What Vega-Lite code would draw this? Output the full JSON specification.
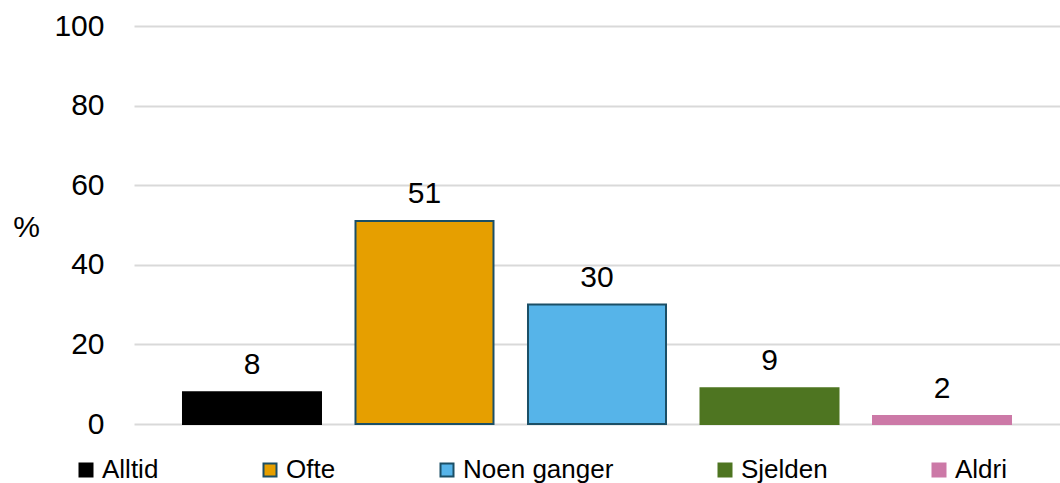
{
  "$schema": "https://vega.github.io/schema/vega-lite/v6.json",
  "width": 926,
  "height": 398,
  "autosize": "none",
  "padding": {"left": 134, "top": 26, "right": 0, "bottom": 59},
  "background": "white",
  "config": {
    "view": {"stroke": null},
    "font": "Liberation Sans"
  },
  "data": {
    "values": [
      {"kategori": "Alltid", "prosent": 8},
      {"kategori": "Ofte", "prosent": 51},
      {"kategori": "Noen ganger", "prosent": 30},
      {"kategori": "Sjelden", "prosent": 9},
      {"kategori": "Aldri", "prosent": 2}
    ]
  },
  "encoding": {
    "x": {
      "field": "kategori",
      "type": "nominal",
      "sort": ["Alltid", "Ofte", "Noen ganger", "Sjelden", "Aldri"],
      "scale": {"paddingInner": 0.2, "paddingOuter": 0.284},
      "axis": null
    },
    "y": {
      "field": "prosent",
      "type": "quantitative",
      "scale": {"domain": [0, 100]},
      "axis": {
        "values": [0, 20, 40, 60, 80, 100],
        "domain": false,
        "ticks": false,
        "labelFontSize": 30,
        "labelColor": "#000000",
        "labelPadding": 30,
        "gridColor": "#d9d9d9",
        "gridWidth": 2,
        "title": "%",
        "titleFontSize": 30,
        "titleFontWeight": "normal",
        "titleColor": "#000000",
        "titleAngle": 0,
        "titleX": -108,
        "titleY": 201,
        "titleAlign": "center",
        "titleBaseline": "middle"
      }
    }
  },
  "layer": [
    {
      "mark": {"type": "bar", "strokeWidth": 2},
      "encoding": {
        "color": {
          "field": "kategori",
          "type": "nominal",
          "sort": ["Alltid", "Ofte", "Noen ganger", "Sjelden", "Aldri"],
          "scale": {
            "domain": ["Alltid", "Ofte", "Noen ganger", "Sjelden", "Aldri"],
            "range": ["#000000", "#E69F00", "#56B4E9", "#4E7521", "#CC79A7"]
          },
          "legend": {
            "title": null,
            "orient": "none",
            "legendX": -61,
            "legendY": 431,
            "direction": "horizontal",
            "columns": 5,
            "gridAlign": "none",
            "columnPadding": 98,
            "labelFontSize": 26,
            "labelColor": "#000000",
            "labelOffset": 3,
            "symbolType": "square",
            "symbolSize": 169,
            "symbolStrokeWidth": 2,
            "symbolOpacity": 1
          }
        },
        "stroke": {
          "field": "kategori",
          "type": "nominal",
          "sort": ["Alltid", "Ofte", "Noen ganger", "Sjelden", "Aldri"],
          "scale": {
            "domain": ["Alltid", "Ofte", "Noen ganger", "Sjelden", "Aldri"],
            "range": ["#000000", "#1B4F66", "#1B4F66", "#4E7521", "#CC79A7"]
          },
          "legend": {
            "title": null,
            "orient": "none",
            "legendX": -61,
            "legendY": 431,
            "direction": "horizontal",
            "columns": 5,
            "gridAlign": "none",
            "columnPadding": 98,
            "labelFontSize": 26,
            "labelColor": "#000000",
            "labelOffset": 3,
            "symbolType": "square",
            "symbolSize": 169,
            "symbolStrokeWidth": 2,
            "symbolOpacity": 1
          }
        }
      }
    },
    {
      "mark": {"type": "text", "fontSize": 30, "baseline": "bottom", "dy": -12, "color": "#000000"},
      "encoding": {
        "text": {"field": "prosent", "type": "quantitative"}
      }
    }
  ]
}
